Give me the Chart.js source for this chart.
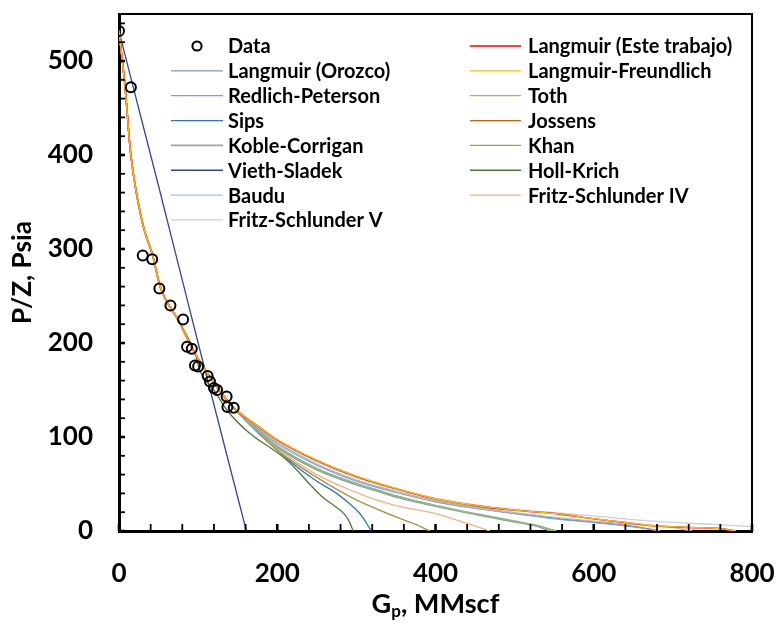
<!DOCTYPE html>
<html>
<head>
<meta charset="utf-8">
<script src="https://cdn.jsdelivr.net/npm/chart.js@4"></script>
<style>
html,body{margin:0;padding:0;background:#fff;}
#wrap{width:776px;height:627px;}
</style>
</head>
<body>
<div id="wrap"><canvas id="c" width="776" height="627"></canvas></div>
<script>
// ---------- data ----------
const dataGp = [0, 15, 30, 42, 51, 65, 81, 86, 92, 96, 100, 112, 115, 120, 124, 136, 137, 145];
const dataPZ = [532, 472, 293, 289, 258, 240, 225, 196, 194, 176, 175, 165, 159, 152, 150, 143, 132, 131];

// shared early part of the model curves
const bundleGp = [0, 7.6, 14.7, 28.7, 39, 42, 52, 75, 96, 123.5, 145];
const bundlePZ = [532, 473, 402, 331, 302, 295, 260, 224, 189, 153.5, 131];

// tails of each model (after the shared part)
const langEsteGp = [175, 200, 250, 300, 350, 400, 450, 500, 557, 600, 650, 680, 720, 760, 779];
const langEstePZ = [112, 97, 75, 58, 45, 34, 27, 22, 18, 13, 8, 5.3, 3.8, 2.5, 0];
const langFreuGp = [175, 200, 250, 300, 350, 400, 450, 500, 557, 600, 650, 680, 720, 760, 780];
const langFreuPZ = [112.3, 97.3, 75.3, 58.3, 45.3, 34.3, 27.3, 22.3, 18.2, 13.2, 8.2, 5.5, 4, 2.6, 0];
const orozcoGp = [175, 200, 250, 300, 324, 350, 412, 450, 475, 500, 530, 545];
const orozcoPZ = [106, 89, 65, 49, 43, 36, 24, 17.5, 13.5, 9.5, 4.5, 0];
const tothGp = [175, 200, 250, 300, 324, 350, 412, 450, 475, 500, 530, 553];
const tothPZ = [107, 90, 66, 50, 44, 37, 24.5, 18, 14, 10, 5.5, 0];
const redlichGp = [175, 200, 250, 300, 350, 400, 450, 500, 557, 600, 650, 684];
const redlichPZ = [109, 93, 70, 53, 41, 31, 24, 18.5, 12.4, 9, 4.5, 0];
const sipsGp = [175, 200, 225, 250, 275, 290, 305, 313, 319];
const sipsPZ = [105, 86, 68, 53, 40, 30, 18, 8, 0];
const jossensGp = [175, 200, 250, 300, 350, 400, 450, 500, 557, 600, 650, 684];
const jossensPZ = [110, 94, 71, 54, 42, 32, 25, 19, 13, 9.5, 5, 0];
const kobleGp = [175, 200, 250, 300, 324, 350, 412, 450, 475, 500, 530, 549];
const koblePZ = [107.5, 90.5, 66.5, 50.5, 44.5, 37.5, 25, 18.5, 14.5, 10.5, 5.5, 0];
const khanGp = [175, 200, 250, 300, 350, 375, 393];
const khanPZ = [106, 86, 57, 33, 15, 7, 0];
const viethGp = [0, 15, 50, 100, 161];
const viethPZ = [532, 482, 367, 200, 0];
const hollGp = [102, 120, 136, 161, 212, 256, 275, 285, 291, 296];
const hollPZ = [171, 150, 129, 107, 75.5, 37, 25, 18, 10, 0];
const bauduGp = [175, 200, 250, 300, 350, 400, 450, 500, 557, 600, 650, 700, 724];
const bauduPZ = [110, 94, 71, 54, 42, 32, 25, 19.5, 14, 10.5, 7, 3.5, 0];
const fs4Gp = [175, 200, 250, 300, 325, 350, 400, 440, 469];
const fs4PZ = [106, 88, 60, 41, 33, 27, 18.5, 8, 0];
const fs5Gp = [175, 200, 250, 300, 350, 400, 450, 500, 557, 600, 684, 750, 801];
const fs5PZ = [112, 96, 74, 57, 45, 35, 28, 23, 19, 16, 10, 7, 4.6];

const xTicks = [0, 200, 400, 600, 800];
const yTicks = [0, 100, 200, 300, 400, 500];

const legendLeft = ['Data', 'Langmuir (Orozco)', 'Redlich-Peterson', 'Sips', 'Koble-Corrigan', 'Vieth-Sladek', 'Baudu', 'Fritz-Schlunder V'];
const legendRight = ['Langmuir (Este trabajo)', 'Langmuir-Freundlich', 'Toth', 'Jossens', 'Khan', 'Holl-Krich', 'Fritz-Schlunder IV'];

// ---------- build ----------
function pts(gp, pz) { return gp.map((g, i) => ({x: g, y: pz[i]})); }
function withBundle(gp, pz, upTo) {
  const lim = upTo === undefined ? 1e9 : upTo;
  const head = [];
  bundleGp.forEach((g, i) => { if (g <= lim) head.push({x: g, y: bundlePZ[i]}); });
  return head.concat(pts(gp, pz));
}
function lineDs(label, data, color, width) {
  return {type: 'line', label, data, borderColor: color, backgroundColor: color,
    borderWidth: width || 1.3, pointRadius: 0, fill: false,
    cubicInterpolationMode: 'monotone'};
}

const datasets = [
  {type: 'scatter', label: 'Data', data: pts(dataGp, dataPZ), showLine: false,
   pointRadius: 5, pointBorderWidth: 2, pointBorderColor: '#000',
   pointBackgroundColor: 'rgba(255,255,255,0)', borderColor: '#000', backgroundColor: 'rgba(255,255,255,0)'},
  lineDs('Langmuir-Freundlich', withBundle(langFreuGp, langFreuPZ), '#FFC000', 1.3),
  lineDs('Langmuir (Este trabajo)', withBundle(langEsteGp, langEstePZ), '#FF0000', 1.6),
  lineDs('Fritz-Schlunder V', withBundle(fs5Gp, fs5PZ), '#CFCFCF', 1.3),
  lineDs('Baudu', withBundle(bauduGp, bauduPZ), '#9DC3E6', 1.3),
  lineDs('Redlich-Peterson', withBundle(redlichGp, redlichPZ), '#7C9FD8', 1.3),
  lineDs('Jossens', withBundle(jossensGp, jossensPZ), '#C55A11', 1.3),
  lineDs('Toth', withBundle(tothGp, tothPZ), '#8CC168', 1.3),
  lineDs('Koble-Corrigan', withBundle(kobleGp, koblePZ), '#A5A5A5', 1.6),
  lineDs('Langmuir (Orozco)', withBundle(orozcoGp, orozcoPZ), '#8497B0', 1.3),
  lineDs('Fritz-Schlunder IV', withBundle(fs4Gp, fs4PZ), '#F4B183', 1.3),
  lineDs('Khan', withBundle(khanGp, khanPZ), '#A8944A', 1.4),
  lineDs('Sips', withBundle(sipsGp, sipsPZ), '#2E75B6', 1.3),
  lineDs('Holl-Krich', withBundle(hollGp, hollPZ, 96), '#4E7A35', 1.3),
  lineDs('Vieth-Sladek', pts(viethGp, viethPZ), '#2F4B8C', 1.3)
];

const FONT = 'Lato, "Open Sans", sans-serif';

// pick a bold font size so that a text spans a given width
function fitSize(ctx, text, width, base) {
  ctx.font = 'bold ' + base + 'px ' + FONT;
  const w = ctx.measureText(text).width;
  return Math.round(base * width / w * 10) / 10;
}

const decor = {
  id: 'decor',
  afterDraw(chart) {
    const ctx = chart.ctx, a = chart.chartArea;
    const xs = chart.scales.x, ys = chart.scales.y;
    ctx.save();
    // box top/right
    ctx.strokeStyle = '#000';
    ctx.lineWidth = 2;
    ctx.beginPath();
    ctx.moveTo(a.left, a.top); ctx.lineTo(a.right, a.top); ctx.lineTo(a.right, a.bottom);
    ctx.stroke();
    // inside ticks
    for (let v = 0; v <= 800; v += 40) {
      const p = xs.getPixelForValue(v);
      ctx.lineWidth = (v % 200 === 0) ? 2.6 : 1.8;
      ctx.beginPath(); ctx.moveTo(p, a.bottom); ctx.lineTo(p, a.bottom - 7); ctx.stroke();
    }
    for (let v = 0; v <= 540; v += 20) {
      const p = ys.getPixelForValue(v);
      ctx.lineWidth = (v % 100 === 0) ? 2.6 : 1.8;
      ctx.beginPath(); ctx.moveTo(a.left, p); ctx.lineTo(a.left + 6, p); ctx.stroke();
    }
    ctx.restore();

    // y title
    ctx.save();
    ctx.fillStyle = '#000';
    const ySize = fitSize(ctx, 'P/Z, Psia', 103, 26);
    ctx.font = 'bold ' + ySize + 'px ' + FONT;
    ctx.translate(23, (a.top + a.bottom) / 2);
    ctx.rotate(-Math.PI / 2);
    ctx.textAlign = 'center'; ctx.textBaseline = 'middle';
    ctx.fillText('P/Z, Psia', 0, 0);
    ctx.restore();

    // x title with subscript
    ctx.save();
    ctx.fillStyle = '#000';
    ctx.textBaseline = 'alphabetic';
    const bs = fitSize(ctx, 'G, MMscf', 118, 26);
    const big = 'bold ' + bs + 'px ' + FONT, small = 'bold ' + Math.round(bs * 0.62) + 'px ' + FONT;
    ctx.font = big; const wG = ctx.measureText('G').width;
    ctx.font = small; const wp = ctx.measureText('p').width;
    ctx.font = big; const wR = ctx.measureText(', MMscf').width;
    const total = wG + wp + wR;
    let x = (a.left + a.right) / 2 - total / 2;
    const base = 613;
    ctx.textAlign = 'left';
    ctx.font = big; ctx.fillText('G', x, base); x += wG;
    ctx.font = small; ctx.fillText('p', x, base + 4); x += wp;
    ctx.font = big; ctx.fillText(', MMscf', x, base);
    ctx.restore();

    // legend
    ctx.save();
    const byLabel = {};
    chart.data.datasets.forEach(d => byLabel[d.label] = d);
    ctx.font = 'bold 20px ' + FONT;
    ctx.textBaseline = 'middle';
    ctx.textAlign = 'left';
    const rowY = i => 46 + i * 24.85;
    function col(list, x0, x1, tx) {
      list.forEach((lab, i) => {
        const d = byLabel[lab], y = rowY(i);
        if (d.type === 'scatter') {
          ctx.beginPath(); ctx.lineWidth = 2; ctx.strokeStyle = '#000';
          ctx.arc((x0 + x1) / 2, y, 4.6, 0, Math.PI * 2); ctx.stroke();
        } else {
          ctx.beginPath(); ctx.lineWidth = d.borderWidth; ctx.strokeStyle = d.borderColor;
          ctx.moveTo(x0, y); ctx.lineTo(x1, y); ctx.stroke();
        }
        ctx.fillStyle = '#000';
        ctx.fillText(lab, tx, y + 1);
      });
    }
    col(legendLeft, 171, 223, 228);
    col(legendRight, 470, 521, 528);
    ctx.restore();
  }
};

new Chart(document.getElementById('c'), {
  data: {datasets},
  options: {
    responsive: false,
    animation: false,
    devicePixelRatio: 1,
    layout: {padding: {top: 14, right: 24, left: 0, bottom: 0}},
    plugins: {legend: {display: false}, tooltip: {enabled: false}, title: {display: false}},
    scales: {
      x: {
        type: 'linear', min: 0, max: 800,
        afterFit: s => { s.height = 96; s.paddingLeft = 0; s.paddingRight = 0; },
        afterBuildTicks: s => { s.ticks = xTicks.map(v => ({value: v})); },
        grid: {display: false, drawTicks: false},
        border: {display: true, color: '#000', width: 3},
        ticks: {padding: 27, color: '#000', font: {family: FONT, size: 26, weight: 'bold'}}
      },
      y: {
        type: 'linear', min: 0, max: 550,
        afterFit: s => { s.width = 119; s.paddingTop = 0; s.paddingBottom = 0; },
        afterBuildTicks: s => { s.ticks = yTicks.map(v => ({value: v})); },
        grid: {display: false, drawTicks: false},
        border: {display: true, color: '#000', width: 3},
        ticks: {padding: 26, color: '#000', font: {family: FONT, size: 26, weight: 'bold'}}
      }
    }
  },
  plugins: [decor]
});
</script>
</body>
</html>
